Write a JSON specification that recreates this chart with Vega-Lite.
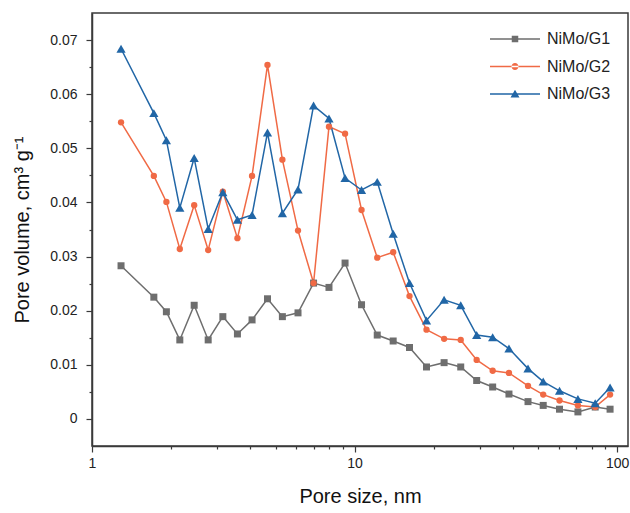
{
  "$schema": "https://vega.github.io/schema/vega-lite/v6.json",
  "width": 536,
  "height": 433,
  "autosize": {"type": "none"},
  "padding": {"left": 92, "top": 13, "right": 2, "bottom": 67},
  "background": "white",
  "config": {
    "font": "Liberation Sans",
    "view": {"stroke": "#3a3a3a", "strokeWidth": 1.5},
    "axis": {
      "grid": false,
      "domainColor": "#3a3a3a",
      "domainWidth": 1.5,
      "tickColor": "#3a3a3a",
      "tickWidth": 1.2,
      "labelFont": "Liberation Sans",
      "labelFontSize": 14,
      "labelColor": "#222222",
      "titleFont": "Liberation Sans",
      "titleFontSize": 20,
      "titleFontWeight": "normal",
      "titleColor": "#111111"
    }
  },
  "data": {
    "values": [
      {"d": 1.29, "s": "NiMo/G1", "v": 0.0283},
      {"d": 1.72, "s": "NiMo/G1", "v": 0.0225},
      {"d": 1.92, "s": "NiMo/G1", "v": 0.0198},
      {"d": 2.16, "s": "NiMo/G1", "v": 0.0146},
      {"d": 2.45, "s": "NiMo/G1", "v": 0.0210},
      {"d": 2.77, "s": "NiMo/G1", "v": 0.0146},
      {"d": 3.15, "s": "NiMo/G1", "v": 0.0189},
      {"d": 3.58, "s": "NiMo/G1", "v": 0.0157},
      {"d": 4.07, "s": "NiMo/G1", "v": 0.0183},
      {"d": 4.66, "s": "NiMo/G1", "v": 0.0222},
      {"d": 5.31, "s": "NiMo/G1", "v": 0.0189},
      {"d": 6.09, "s": "NiMo/G1", "v": 0.0196},
      {"d": 6.98, "s": "NiMo/G1", "v": 0.0251},
      {"d": 7.99, "s": "NiMo/G1", "v": 0.0243},
      {"d": 9.2, "s": "NiMo/G1", "v": 0.0288},
      {"d": 10.63, "s": "NiMo/G1", "v": 0.0211},
      {"d": 12.2, "s": "NiMo/G1", "v": 0.0155},
      {"d": 14.03, "s": "NiMo/G1", "v": 0.0144},
      {"d": 16.19, "s": "NiMo/G1", "v": 0.0132},
      {"d": 18.79, "s": "NiMo/G1", "v": 0.0096},
      {"d": 21.93, "s": "NiMo/G1", "v": 0.0104},
      {"d": 25.37, "s": "NiMo/G1", "v": 0.0096},
      {"d": 29.18, "s": "NiMo/G1", "v": 0.0071},
      {"d": 33.57, "s": "NiMo/G1", "v": 0.0059},
      {"d": 38.73, "s": "NiMo/G1", "v": 0.0046},
      {"d": 45.77, "s": "NiMo/G1", "v": 0.0032},
      {"d": 52.3, "s": "NiMo/G1", "v": 0.0025},
      {"d": 60.34, "s": "NiMo/G1", "v": 0.0018},
      {"d": 70.9, "s": "NiMo/G1", "v": 0.0013},
      {"d": 82.5, "s": "NiMo/G1", "v": 0.0022},
      {"d": 94.0, "s": "NiMo/G1", "v": 0.0018},
      {"d": 1.29, "s": "NiMo/G2", "v": 0.0548},
      {"d": 1.72, "s": "NiMo/G2", "v": 0.0449},
      {"d": 1.92, "s": "NiMo/G2", "v": 0.0401},
      {"d": 2.16, "s": "NiMo/G2", "v": 0.0314},
      {"d": 2.45, "s": "NiMo/G2", "v": 0.0395},
      {"d": 2.77, "s": "NiMo/G2", "v": 0.0312},
      {"d": 3.15, "s": "NiMo/G2", "v": 0.0420},
      {"d": 3.58, "s": "NiMo/G2", "v": 0.0334},
      {"d": 4.07, "s": "NiMo/G2", "v": 0.0449},
      {"d": 4.66, "s": "NiMo/G2", "v": 0.0654},
      {"d": 5.31, "s": "NiMo/G2", "v": 0.0479},
      {"d": 6.09, "s": "NiMo/G2", "v": 0.0348},
      {"d": 6.98, "s": "NiMo/G2", "v": 0.0251},
      {"d": 7.99, "s": "NiMo/G2", "v": 0.0540},
      {"d": 9.2, "s": "NiMo/G2", "v": 0.0527},
      {"d": 10.63, "s": "NiMo/G2", "v": 0.0386},
      {"d": 12.2, "s": "NiMo/G2", "v": 0.0298},
      {"d": 14.03, "s": "NiMo/G2", "v": 0.0308},
      {"d": 16.19, "s": "NiMo/G2", "v": 0.0227},
      {"d": 18.79, "s": "NiMo/G2", "v": 0.0165},
      {"d": 21.93, "s": "NiMo/G2", "v": 0.0148},
      {"d": 25.37, "s": "NiMo/G2", "v": 0.0146},
      {"d": 29.18, "s": "NiMo/G2", "v": 0.0109},
      {"d": 33.57, "s": "NiMo/G2", "v": 0.0089},
      {"d": 38.73, "s": "NiMo/G2", "v": 0.0085},
      {"d": 45.77, "s": "NiMo/G2", "v": 0.0061},
      {"d": 52.3, "s": "NiMo/G2", "v": 0.0045},
      {"d": 60.34, "s": "NiMo/G2", "v": 0.0034},
      {"d": 70.9, "s": "NiMo/G2", "v": 0.0025},
      {"d": 82.5, "s": "NiMo/G2", "v": 0.0022},
      {"d": 94.0, "s": "NiMo/G2", "v": 0.0045},
      {"d": 1.29, "s": "NiMo/G3", "v": 0.0684},
      {"d": 1.72, "s": "NiMo/G3", "v": 0.0565},
      {"d": 1.92, "s": "NiMo/G3", "v": 0.0515},
      {"d": 2.16, "s": "NiMo/G3", "v": 0.0390},
      {"d": 2.45, "s": "NiMo/G3", "v": 0.0482},
      {"d": 2.77, "s": "NiMo/G3", "v": 0.0351},
      {"d": 3.15, "s": "NiMo/G3", "v": 0.0419},
      {"d": 3.58, "s": "NiMo/G3", "v": 0.0368},
      {"d": 4.07, "s": "NiMo/G3", "v": 0.0377},
      {"d": 4.66, "s": "NiMo/G3", "v": 0.0529},
      {"d": 5.31, "s": "NiMo/G3", "v": 0.0380},
      {"d": 6.09, "s": "NiMo/G3", "v": 0.0424},
      {"d": 6.98, "s": "NiMo/G3", "v": 0.0579},
      {"d": 7.99, "s": "NiMo/G3", "v": 0.0555},
      {"d": 9.2, "s": "NiMo/G3", "v": 0.0445},
      {"d": 10.63, "s": "NiMo/G3", "v": 0.0423},
      {"d": 12.2, "s": "NiMo/G3", "v": 0.0438},
      {"d": 14.03, "s": "NiMo/G3", "v": 0.0342},
      {"d": 16.19, "s": "NiMo/G3", "v": 0.0251},
      {"d": 18.79, "s": "NiMo/G3", "v": 0.0182},
      {"d": 21.93, "s": "NiMo/G3", "v": 0.0220},
      {"d": 25.37, "s": "NiMo/G3", "v": 0.0210},
      {"d": 29.18, "s": "NiMo/G3", "v": 0.0155},
      {"d": 33.57, "s": "NiMo/G3", "v": 0.0151},
      {"d": 38.73, "s": "NiMo/G3", "v": 0.0130},
      {"d": 45.77, "s": "NiMo/G3", "v": 0.0093},
      {"d": 52.3, "s": "NiMo/G3", "v": 0.0069},
      {"d": 60.34, "s": "NiMo/G3", "v": 0.0052},
      {"d": 70.9, "s": "NiMo/G3", "v": 0.0037},
      {"d": 82.5, "s": "NiMo/G3", "v": 0.0029},
      {"d": 94.0, "s": "NiMo/G3", "v": 0.0058}
    ]
  },
  "encoding": {
    "x": {
      "field": "d",
      "type": "quantitative",
      "scale": {"type": "log", "domain": [1, 110], "nice": false},
      "axis": {
        "title": "Pore size, nm",
        "values": [1, 2, 3, 4, 5, 6, 7, 8, 9, 10, 20, 30, 40, 50, 60, 70, 80, 90, 100],
        "tickSize": {"condition": {"test": "indexof([1,10,100], datum.value) < 0", "value": 3}, "value": 6},
        "labelExpr": "indexof([1,10,100], datum.value) >= 0 ? format(datum.value, 'd') : ''",
        "labelPadding": 4,
        "labelFlush": false,
        "labelOverlap": false,
        "titlePadding": 16
      }
    },
    "y": {
      "field": "v",
      "type": "quantitative",
      "scale": {"domain": [-0.005, 0.075], "nice": false, "zero": false},
      "axis": {
        "title": "Pore volume, cm³ g⁻¹",
        "values": [0, 0.005, 0.01, 0.015, 0.02, 0.025, 0.03, 0.035, 0.04, 0.045, 0.05, 0.055, 0.06, 0.065, 0.07],
        "tickSize": {"condition": {"test": "round(datum.value*200) % 2 == 1", "value": 3}, "value": 6},
        "labelExpr": "round(datum.value*200) % 2 == 1 ? '' : (datum.value == 0 ? '0' : format(datum.value, '.2f'))",
        "labelPadding": 9,
        "labelOverlap": false,
        "labelFlush": false,
        "titlePadding": 17
      }
    },
    "color": {
      "field": "s",
      "type": "nominal",
      "scale": {"domain": ["NiMo/G1", "NiMo/G2", "NiMo/G3"], "range": ["#6e6e6e", "#f06a45", "#2166a6"]},
      "legend": {
        "title": null,
        "orient": "none",
        "legendX": 398,
        "legendY": 13,
        "padding": 0,
        "symbolSize": 2500,
        "symbolStrokeWidth": 0,
        "symbolOffset": 0,
        "clipHeight": 26,
        "rowPadding": 1.5,
        "labelOffset": 7,
        "labelFont": "Liberation Sans",
        "labelFontSize": 16,
        "labelColor": "#222222"
      }
    }
  },
  "layer": [
    {
      "mark": {"type": "line", "strokeWidth": 1.5}
    },
    {
      "transform": [{"filter": "datum.v > 1"}],
      "mark": {"type": "point", "filled": true, "opacity": 1},
      "encoding": {
        "shape": {
          "field": "s",
          "type": "nominal",
          "scale": {
            "domain": ["NiMo/G1", "NiMo/G2", "NiMo/G3"],
            "range": [
              "M-1,-0.03H1V0.03H-1ZM-0.13,-0.13H0.13V0.13H-0.13Z",
              "M-1,-0.03H1V0.03H-1ZM-0.14,0A0.14,0.14,0,1,0,0.14,0A0.14,0.14,0,1,0,-0.14,0Z",
              "M-1,-0.03H1V0.03H-1ZM0,-0.17L0.18,0.14L-0.18,0.14Z"
            ]
          }
        }
      }
    },
    {
      "transform": [{"filter": "datum.s == 'NiMo/G1'"}],
      "mark": {"type": "point", "filled": true, "opacity": 1, "shape": "square", "size": 49}
    },
    {
      "transform": [{"filter": "datum.s == 'NiMo/G2'"}],
      "mark": {"type": "point", "filled": true, "opacity": 1, "shape": "circle", "size": 40}
    },
    {
      "transform": [{"filter": "datum.s == 'NiMo/G3'"}],
      "mark": {"type": "point", "filled": true, "opacity": 1, "shape": "triangle-up", "size": 85}
    }
  ]
}
